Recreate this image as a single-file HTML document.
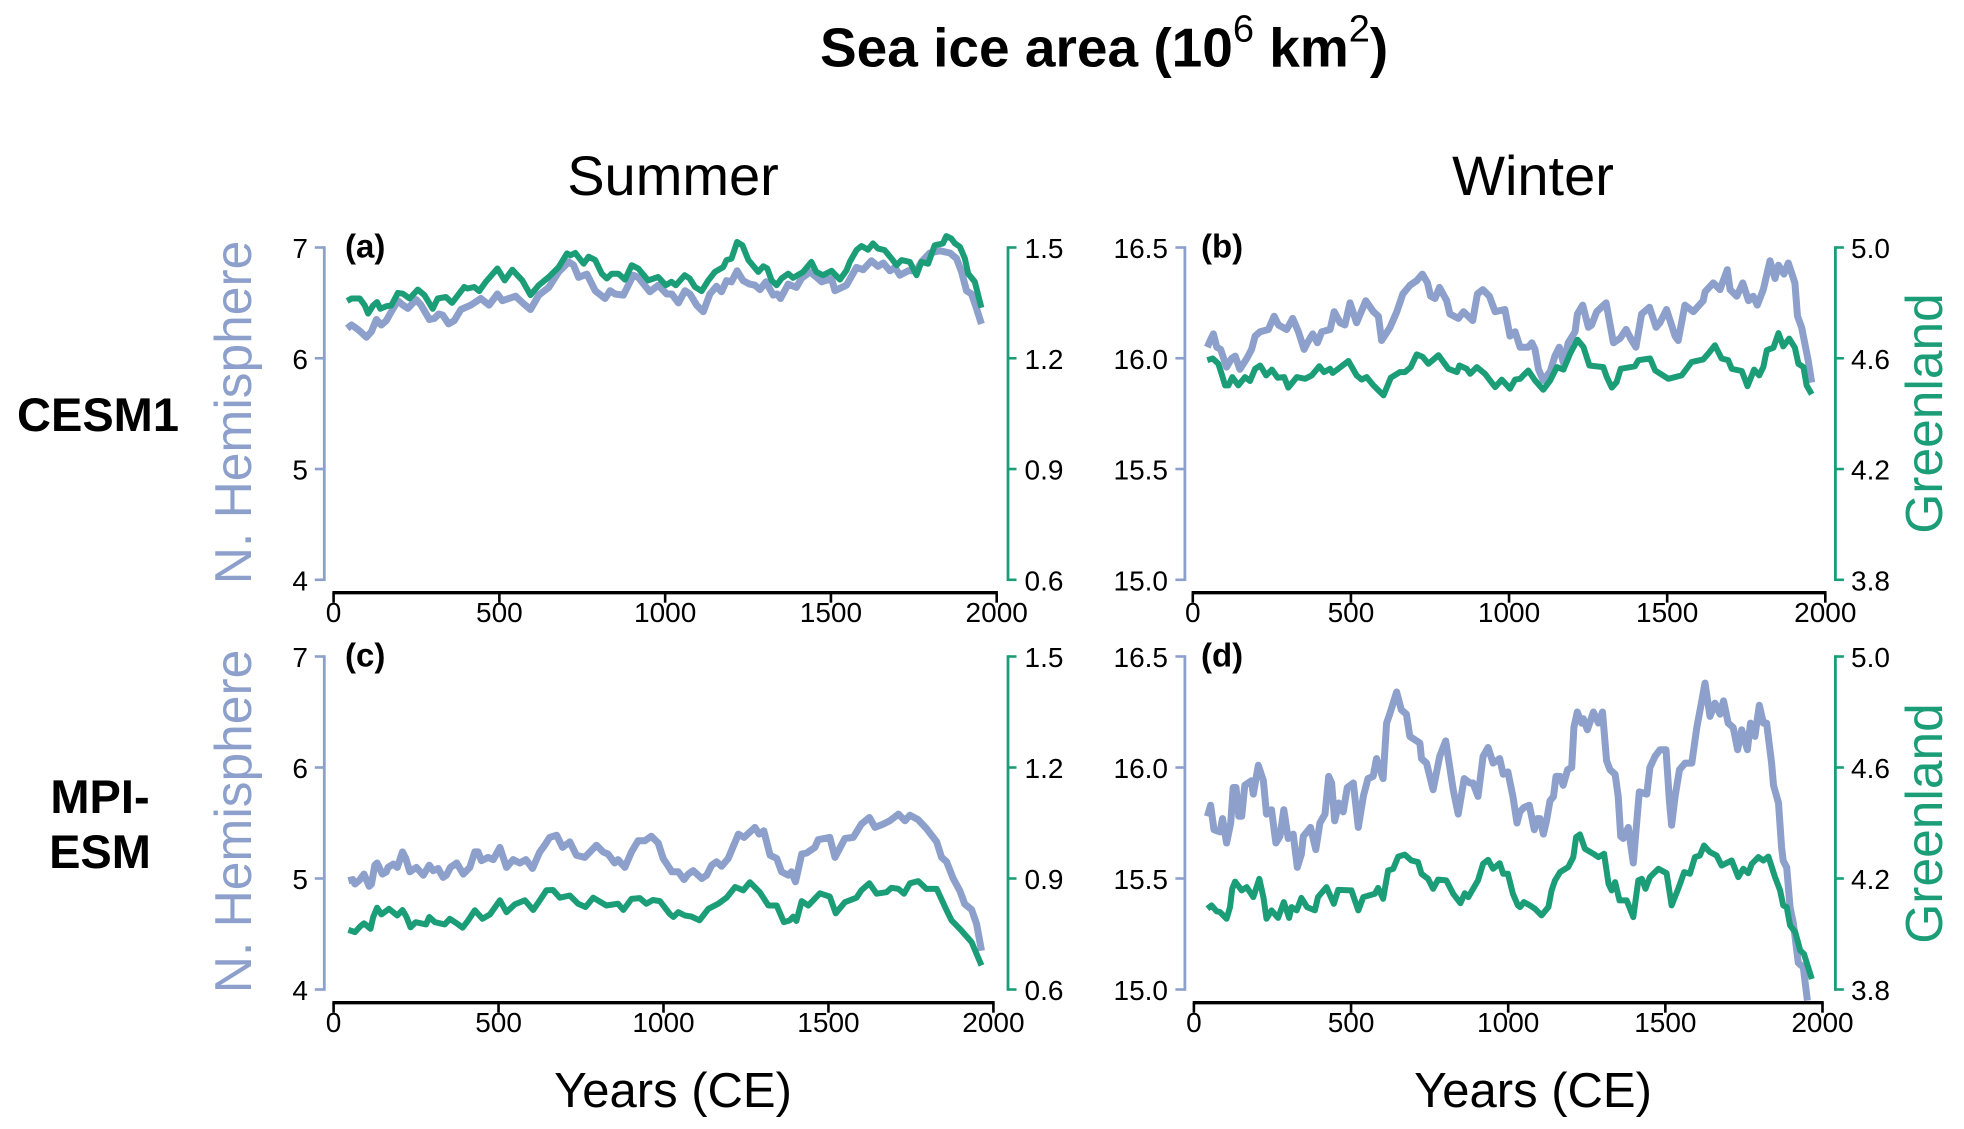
<!DOCTYPE html>
<html lang="en">
<head>
<meta charset="utf-8">
<title>Sea ice area</title>
<style>
html,body{margin:0;padding:0;background:#fff;}
svg{display:block;font-family:"Liberation Sans",Arial,sans-serif;}
</style>
</head>
<body>
<svg id="figure" xmlns="http://www.w3.org/2000/svg" width="1964" height="1129" viewBox="0 0 1964 1129">
<rect x="0" y="0" width="1964" height="1129" fill="#fff"/>
<text x="820" y="66.5" font-size="55" font-weight="bold" fill="#000">Sea ice area (10<tspan font-size="38" font-weight="normal" dy="-25">6</tspan><tspan dy="25"> km</tspan><tspan font-size="38" font-weight="normal" dy="-25">2</tspan><tspan dy="25">)</tspan></text>
<text x="673" y="195" font-size="56" text-anchor="middle" fill="#000">Summer</text>
<text x="1533" y="195" font-size="56" text-anchor="middle" fill="#000">Winter</text>
<text x="98" y="431" font-size="47" font-weight="bold" text-anchor="middle" fill="#000">CESM1</text>
<text font-size="47" font-weight="bold" text-anchor="middle" fill="#000"><tspan x="100" y="813">MPI-</tspan><tspan x="100" y="868">ESM</tspan></text>
<text x="673" y="1107" font-size="49" text-anchor="middle" fill="#000">Years (CE)</text>
<text x="1533" y="1107" font-size="49" text-anchor="middle" fill="#000">Years (CE)</text>
<text transform="translate(251 412.5) rotate(-90)" font-size="51.5" text-anchor="middle" fill="#8DA0CB">N. Hemisphere</text>
<text transform="translate(251 821.5) rotate(-90)" font-size="51.5" text-anchor="middle" fill="#8DA0CB">N. Hemisphere</text>
<text transform="translate(1942 413.5) rotate(-90)" font-size="51.5" text-anchor="middle" fill="#1B9E77">Greenland</text>
<text transform="translate(1942 823.5) rotate(-90)" font-size="51.5" text-anchor="middle" fill="#1B9E77">Greenland</text>
</svg>
<script>
// ---- Tick labels ----
const xTicks = [0, 500, 1000, 1500, 2000];
const summerNHTicks = ["4", "5", "6", "7"];
const summerGLTicks = ["0.6", "0.9", "1.2", "1.5"];
const winterNHTicks = ["15.0", "15.5", "16.0", "16.5"];
const winterGLTicks = ["3.8", "4.2", "4.6", "5.0"];

// ---- Panel (a) CESM1 summer ----
const aYearsNH = [41,54,69,81,99,114,129,144,159,174,
194,209,224,249,264,289,304,317,329,347,
364,384,414,444,469,494,509,549,574,594,
619,649,679,709,724,739,764,789,819,834,
849,874,904,919,954,979,
1005,1020,1040,1060,1075,1095,1115,1135,1155,1170,
1185,1200,1217,1235,1255,1271,1286,1304,1326,1338,
1348,1371,1396,1411,1437,1457,1472,1502,1512,1547,
1577,1597,1622,1642,1658,1678,1693,1708,1733,1758,
1773,1798,1829,1859,1879,1894,1909,1924,1939,1954];
const aNH = [6.27,6.30,6.27,6.24,6.19,6.24,6.35,6.30,6.34,6.42,
6.52,6.48,6.45,6.53,6.48,6.35,6.36,6.40,6.39,6.31,
6.34,6.44,6.48,6.54,6.48,6.58,6.52,6.56,6.49,6.44,
6.57,6.64,6.78,6.87,6.84,6.73,6.76,6.61,6.54,6.61,
6.58,6.57,6.75,6.73,6.60,6.66,
6.58,6.58,6.50,6.61,6.58,6.48,6.42,6.58,6.65,6.60,
6.70,6.69,6.79,6.70,6.67,6.66,6.62,6.69,6.57,6.58,
6.54,6.67,6.64,6.72,6.78,6.73,6.69,6.72,6.61,6.66,
6.82,6.80,6.88,6.83,6.86,6.79,6.82,6.75,6.79,6.79,
6.87,6.95,6.97,6.95,6.90,6.78,6.61,6.58,6.45,6.31];
const aYearsGL = [41,54,79,94,104,119,131,141,159,174,
194,209,229,254,274,299,314,339,357,394,
404,424,439,459,494,516,539,569,594,619,
649,679,704,714,729,754,769,789,809,824,
839,859,879,899,919,949,979,
1002,1019,1032,1059,1074,1090,1110,1130,1150,1175,
1185,1200,1217,1233,1251,1281,1296,1308,1321,1336,
1351,1371,1386,1416,1441,1456,1476,1502,1527,1547,
1557,1577,1592,1612,1627,1642,1662,1683,1698,1713,
1738,1758,1773,1793,1813,1838,1848,1863,1874,1889,
1904,1914,1934,1954];
const aGL = [1.355,1.362,1.362,1.343,1.321,1.343,1.352,1.334,1.341,1.343,
1.377,1.375,1.362,1.386,1.371,1.334,1.362,1.366,1.350,1.393,
1.389,1.393,1.382,1.407,1.443,1.411,1.440,1.411,1.371,1.398,
1.420,1.447,1.484,1.479,1.485,1.456,1.475,1.466,1.429,1.416,
1.429,1.429,1.413,1.452,1.443,1.411,1.420,
1.398,1.407,1.398,1.425,1.416,1.393,1.382,1.411,1.434,1.447,
1.466,1.470,1.515,1.506,1.466,1.434,1.449,1.443,1.411,1.398,
1.416,1.429,1.418,1.434,1.461,1.434,1.425,1.437,1.413,1.438,
1.461,1.493,1.504,1.494,1.511,1.497,1.493,1.470,1.452,1.466,
1.461,1.425,1.461,1.456,1.506,1.511,1.531,1.524,1.511,1.502,
1.470,1.429,1.407,1.337];

// ---- Panel (b) CESM1 winter ----
const bYearsNH = [46,55,65,76,88,107,123,134,149,171,
186,197,213,239,257,271,297,316,334,352,
362,379,394,408,434,447,466,481,497,518,
547,571,587,597,624,645,664,687,708,726,
742,752,766,780,803,813,840,856,885,900,
917,938,956,987,1003,1019,1035,
1061,1072,1082,1093,1108,1130,1145,1159,1172,1187,
1209,1216,1233,1251,1261,1277,1307,1330,1351,1370,
1388,1401,1419,1444,1465,1477,1498,1525,1535,1556,
1583,1614,1620,1646,1667,1690,1699,1720,1739,1757,
1772,1785,1804,1825,1841,1852,1869,1883,1904,1912,
1925,1946,1957];
const bNH = [16.05,16.08,16.11,16.05,16.04,15.96,16.00,16.01,15.95,16.00,
16.04,16.10,16.12,16.13,16.19,16.15,16.13,16.18,16.12,16.04,
16.07,16.11,16.07,16.12,16.13,16.21,16.16,16.15,16.25,16.16,
16.26,16.21,16.19,16.08,16.14,16.21,16.29,16.33,16.35,16.38,
16.34,16.28,16.27,16.32,16.26,16.20,16.18,16.21,16.17,16.29,
16.31,16.28,16.21,16.22,16.10,16.12,16.05,
16.05,16.07,16.04,15.95,15.90,15.94,16.01,16.05,15.98,16.07,
16.12,16.20,16.24,16.14,16.15,16.21,16.25,16.07,16.09,16.13,
16.08,16.05,16.20,16.23,16.14,16.16,16.22,16.10,16.08,16.24,
16.21,16.26,16.30,16.34,16.31,16.40,16.31,16.28,16.34,16.26,
16.28,16.24,16.31,16.44,16.36,16.42,16.38,16.43,16.34,16.19,
16.14,15.99,15.89];
const bYearsGL = [46,63,81,91,102,113,125,144,165,181,
197,213,232,250,268,289,302,329,355,376,
400,415,434,442,460,492,518,534,550,571,
603,626,655,671,689,708,727,745,777,808,
835,843,866,877,898,924,956,977,1003,1019,
1035,
1045,1061,1082,1108,1130,1151,1172,1193,1216,1235,
1254,1298,1309,1325,1340,1353,1398,1409,1446,1462,
1504,1546,1577,1614,1630,1651,1672,1693,1704,1736,
1754,1775,1791,1804,1815,1836,1852,1867,1886,1904,
1915,1931,1941,1957];
const bGL = [4.593,4.599,4.580,4.544,4.502,4.502,4.532,4.502,4.532,4.518,
4.562,4.574,4.538,4.559,4.530,4.532,4.494,4.532,4.526,4.538,
4.571,4.550,4.562,4.547,4.562,4.590,4.538,4.523,4.532,4.502,
4.466,4.530,4.550,4.550,4.568,4.614,4.605,4.580,4.611,4.562,
4.550,4.574,4.562,4.544,4.568,4.544,4.496,4.523,4.490,4.523,
4.526,
4.538,4.556,4.520,4.486,4.520,4.568,4.559,4.617,4.667,4.641,
4.574,4.568,4.532,4.494,4.514,4.562,4.571,4.593,4.599,4.556,
4.526,4.538,4.586,4.596,4.617,4.647,4.599,4.593,4.562,4.554,
4.499,4.559,4.538,4.568,4.629,4.638,4.691,4.643,4.671,4.638,
4.580,4.568,4.502,4.470];

// ---- Panel (c) MPI-ESM summer ----
const cYearsNH = [45,58,65,80,92,108,115,125,132,148,
160,165,181,193,209,219,231,251,272,290,
302,317,332,342,354,373,393,413,428,438,
448,468,484,504,524,544,564,583,603,625,
640,655,676,694,716,736,761,797,817,832,
852,862,883,903,923,943,963,984,999,1019,
1025,1045,1062,1075,1090,1116,1131,1146,1161,1176,
1196,1227,1244,1277,1290,1304,1323,1343,1358,1378,
1388,1400,1419,1434,1459,1469,1504,1520,1550,1575,
1600,1624,1641,1666,1686,1712,1732,1747,1772,1797,
1828,1843,1858,1878,1898,1913,1934,1949,1964];
const cNH = [4.98,4.99,4.95,4.99,5.04,4.93,4.95,5.12,5.14,5.04,
5.06,5.10,5.13,5.10,5.24,5.18,5.06,5.10,5.03,5.12,
5.07,5.09,5.01,5.03,5.10,5.14,5.04,5.10,5.24,5.24,
5.16,5.19,5.17,5.28,5.10,5.17,5.14,5.17,5.09,5.24,
5.30,5.37,5.39,5.28,5.33,5.21,5.19,5.30,5.24,5.22,
5.14,5.17,5.10,5.24,5.34,5.34,5.38,5.32,5.18,5.09,
5.06,5.06,4.99,5.04,5.07,5.00,5.03,5.12,5.15,5.11,
5.18,5.40,5.37,5.46,5.40,5.43,5.21,5.18,5.06,5.03,
5.06,4.97,5.22,5.23,5.28,5.35,5.37,5.19,5.36,5.37,
5.49,5.55,5.46,5.49,5.52,5.58,5.52,5.57,5.53,5.45,
5.33,5.19,5.15,5.00,4.89,4.77,4.72,4.59,4.35];
const cYearsGL = [45,65,80,92,112,120,132,145,168,193,
209,221,233,249,280,290,307,337,352,373,
391,408,428,451,474,504,524,549,580,605,
625,645,665,686,716,741,764,787,827,862,
878,903,928,948,968,989,1019,
1030,1045,1065,1085,1109,1136,1166,1191,1217,1242,
1262,1292,1318,1343,1365,1383,1393,1403,1419,1439,
1474,1504,1522,1550,1585,1600,1624,1646,1676,1691,
1712,1729,1747,1772,1797,1828,1858,1873,1898,1934,
1949,1964];
const cGL = [.761,.755,.770,.779,.764,.796,.821,.803,.818,.800,
.815,.796,.768,.782,.776,.796,.782,.776,.791,.779,
.767,.787,.814,.791,.803,.841,.809,.830,.841,.815,
.841,.868,.869,.848,.854,.832,.823,.848,.827,.832,
.815,.845,.847,.832,.842,.839,.804,
.796,.809,.800,.797,.787,.818,.832,.848,.877,.868,
.890,.863,.827,.827,.782,.787,.797,.785,.839,.827,
.860,.851,.806,.836,.848,.868,.887,.859,.863,.875,
.872,.859,.887,.893,.872,.872,.814,.787,.764,.728,
.696,.665];

// ---- Panel (d) MPI-ESM winter ----
const dYearsNH = [43,53,64,83,91,104,117,125,134,143,
152,162,183,189,205,221,231,247,261,274,
286,300,316,329,342,348,371,388,401,417,
429,438,448,461,475,488,507,523,539,554,
570,581,602,613,623,645,660,676,687,719,
724,740,761,782,801,825,841,860,878,888,
904,920,936,952,973,984,999,1015,1028,1037,
1050,1067,1083,1093,1101,1112,1122,1133,1144,1152,
1165,1175,1189,1202,1209,1220,1234,1239,1252,1271,
1287,1300,1313,1324,1340,1350,1358,1366,1382,1398,
1407,1417,1441,1451,1467,1483,1502,1513,1520,1531,
1545,1563,1584,1600,1616,1626,1642,1658,1674,1685,
1700,1716,1730,1743,1761,1771,1785,1799,1812,1822,
1838,1844,1860,1870,1875,1886,1897,1907,1923,1939,
1952];
const dNH = [15.78,15.83,15.72,15.71,15.77,15.66,15.75,15.91,15.91,15.78,
15.78,15.92,15.94,15.88,16.01,15.94,15.79,15.81,15.66,15.69,
15.81,15.68,15.70,15.55,15.61,15.69,15.73,15.63,15.75,15.79,
15.96,15.93,15.76,15.84,15.80,15.91,15.93,15.73,15.87,15.95,
15.96,16.04,15.95,16.20,16.24,16.34,16.26,16.24,16.14,16.11,
16.04,16.02,15.90,16.05,16.12,15.90,15.79,15.95,15.93,15.93,
15.87,16.05,16.09,16.02,16.04,15.97,15.98,15.87,15.75,15.80,
15.82,15.83,15.72,15.77,15.77,15.70,15.76,15.85,15.87,15.96,
15.96,15.92,15.99,16.00,16.18,16.25,16.20,16.22,16.17,16.25,
16.20,16.25,16.03,15.99,15.97,15.87,15.69,15.68,15.73,15.57,
15.72,15.89,15.88,16.00,16.05,16.08,16.08,15.85,15.74,15.87,
15.99,16.02,16.02,16.18,16.30,16.38,16.23,16.29,16.24,16.30,
16.20,16.18,16.08,16.17,16.08,16.20,16.14,16.28,16.20,16.20,
16.02,15.92,15.84,15.64,15.58,15.55,15.37,15.30,15.12,15.10,
14.95];
const dYearsGL = [43,56,72,83,104,115,122,131,152,168,
189,208,221,231,247,268,286,303,311,327,
342,360,385,395,422,445,459,501,523,539,
576,586,602,618,634,650,671,692,713,724,
745,761,777,803,825,848,862,873,904,920,
936,952,973,984,999,1015,1031,
1038,1050,1069,1085,1106,1128,1138,1149,1165,1191,
1207,1216,1228,1244,1271,1287,1305,1319,1329,1340,
1354,1377,1398,1414,1425,1437,1451,1478,1504,1520,
1541,1560,1578,1594,1610,1623,1642,1663,1679,1711,
1732,1748,1764,1775,1796,1812,1828,1849,1865,1875,
1886,1897,1913,1929,1941,1966];
const dGL = [4.091,4.103,4.082,4.079,4.055,4.097,4.163,4.189,4.157,4.169,
4.133,4.199,4.133,4.055,4.085,4.058,4.115,4.058,4.097,4.085,
4.130,4.097,4.085,4.133,4.169,4.109,4.159,4.157,4.085,4.133,
4.145,4.166,4.127,4.229,4.235,4.279,4.286,4.265,4.259,4.217,
4.199,4.163,4.196,4.193,4.145,4.111,4.147,4.133,4.193,4.253,
4.267,4.235,4.255,4.217,4.217,4.145,4.103,
4.097,4.115,4.103,4.091,4.067,4.097,4.157,4.193,4.223,4.241,
4.277,4.349,4.359,4.307,4.289,4.277,4.289,4.181,4.157,4.187,
4.121,4.121,4.061,4.193,4.199,4.163,4.205,4.235,4.219,4.103,
4.163,4.223,4.217,4.277,4.283,4.319,4.295,4.283,4.247,4.265,
4.205,4.235,4.219,4.253,4.277,4.265,4.279,4.205,4.157,4.103,
4.097,4.031,4.007,3.941,3.928,3.838];

// ---- Drawing ----
const NS = 'http://www.w3.org/2000/svg';
const svg = document.getElementById('figure');
const NH_COLOR = '#8DA0CB';
const GL_COLOR = '#1B9E77';

function mk(parent, tag, attrs, text) {
  const el = document.createElementNS(NS, tag);
  for (const k in attrs) el.setAttribute(k, attrs[k]);
  if (text !== undefined) el.textContent = text;
  parent.appendChild(el);
  return el;
}

function linearScale(d0, d1, r0, r1) {
  return function (v) { return r0 + (v - d0) / (d1 - d0) * (r1 - r0); };
}

function seriesPath(years, values, xs, ys) {
  const n = Math.min(years.length, values.length);
  let d = '';
  for (let i = 0; i < n; i++) {
    d += (i ? 'L' : 'M') + xs(years[i]).toFixed(1) + ' ' + ys(values[i]).toFixed(1);
  }
  return d;
}

function drawPanel(p) {
  const g = mk(svg, 'g', {});
  
  

  const xs = linearScale(0, 2000, p.x0, p.x1);
  const ysL = linearScale(Number(p.leftTicks[0]), Number(p.leftTicks[p.leftTicks.length - 1]), p.yBottom, p.yTop);
  const ysR = linearScale(Number(p.rightTicks[0]), Number(p.rightTicks[p.rightTicks.length - 1]), p.yBottom, p.yTop);

  const nhLine = mk(g, 'path', { d: seriesPath(p.yearsNH, p.nh, xs, ysL), fill: 'none', stroke: NH_COLOR, 'stroke-width': 7, 'stroke-linejoin': 'round', 'stroke-linecap': 'butt' });
  
  

  const glLine = mk(g, 'path', { d: seriesPath(p.yearsGL, p.gl, xs, ysR), fill: 'none', stroke: GL_COLOR, 'stroke-width': 6, 'stroke-linejoin': 'round', 'stroke-linecap': 'butt' });
  
  

  // left axis
  const leftAxis = mk(g, 'line', { x1: p.axisL, x2: p.axisL, y1: p.yTop - 1.2, y2: p.yBottom + 1.2, stroke: NH_COLOR, 'stroke-width': 2.8 });
  
  
  p.leftTicks.forEach(function (t) {
    const y = ysL(Number(t));
    const tick = mk(g, 'line', { x1: p.axisL - 9.5, x2: p.axisL, y1: y, y2: y, stroke: NH_COLOR, 'stroke-width': 2.6 });
    
    
    const lab = mk(g, 'text', { x: p.labL, y: y + 10.5, 'font-size': 28, 'text-anchor': 'end', fill: '#000' }, t);
    
    
  });

  // right axis
  const rightAxis = mk(g, 'line', { x1: p.axisR, x2: p.axisR, y1: p.yTop - 1.2, y2: p.yBottom + 1.2, stroke: GL_COLOR, 'stroke-width': 2.8 });
  
  
  p.rightTicks.forEach(function (t) {
    const y = ysR(Number(t));
    const tick = mk(g, 'line', { x1: p.axisR, x2: p.axisR + 8.5, y1: y, y2: y, stroke: GL_COLOR, 'stroke-width': 2.6 });
    
    
    const lab = mk(g, 'text', { x: p.labR, y: y + 10.5, 'font-size': 28, 'text-anchor': 'start', fill: '#000' }, t);
    
    
  });

  // x axis
  const xAxis = mk(g, 'line', { x1: p.x0 - 1.2, x2: p.x1 + 1.2, y1: p.yAxis, y2: p.yAxis, stroke: '#000', 'stroke-width': 3.4 });
  
  
  xTicks.forEach(function (t) {
    const x = xs(t);
    const tick = mk(g, 'line', { x1: x, x2: x, y1: p.yAxis, y2: p.yAxis + 10, stroke: '#000', 'stroke-width': 2.6 });
    
    
    const lab = mk(g, 'text', { x: x, y: p.yAxis + 29.5, 'font-size': 28, 'text-anchor': 'middle', fill: '#000' }, String(t));
    
    
  });

  const tag = mk(g, 'text', { x: p.tagX, y: p.yTop + 10, 'font-size': 33, 'font-weight': 'bold', fill: '#000' }, p.tag);
  
  
}

const rowTop = { yTop: 247.5, yBottom: 579.8, yAxis: 592.7 };
const rowBottom = { yTop: 656.5, yBottom: 989.5, yAxis: 1002.7 };

drawPanel(Object.assign({}, rowTop, { tag: '(a)', tagX: 345, x0: 333.6, x1: 996.7, axisL: 324.3, axisR: 1008, labL: 308, labR: 1024.5,
  leftTicks: summerNHTicks, rightTicks: summerGLTicks, yearsNH: aYearsNH, nh: aNH, yearsGL: aYearsGL, gl: aGL }));
drawPanel(Object.assign({}, rowTop, { tag: '(b)', tagX: 1201, x0: 1192.8, x1: 1825.3, axisL: 1184.9, axisR: 1835.4, labL: 1168, labR: 1851,
  leftTicks: winterNHTicks, rightTicks: winterGLTicks, yearsNH: bYearsNH, nh: bNH, yearsGL: bYearsGL, gl: bGL }));
drawPanel(Object.assign({}, rowBottom, { tag: '(c)', tagX: 345, x0: 333.6, x1: 993.4, axisL: 324.3, axisR: 1008, labL: 308, labR: 1024.5,
  leftTicks: summerNHTicks, rightTicks: summerGLTicks, yearsNH: cYearsNH, nh: cNH, yearsGL: cYearsGL, gl: cGL }));
drawPanel(Object.assign({}, rowBottom, { tag: '(d)', tagX: 1201, x0: 1193.9, x1: 1822.5, axisL: 1184.9, axisR: 1835.4, labL: 1168, labR: 1851,
  leftTicks: winterNHTicks, rightTicks: winterGLTicks, yearsNH: dYearsNH, nh: dNH, yearsGL: dYearsGL, gl: dGL }));
</script>
</body>
</html>
